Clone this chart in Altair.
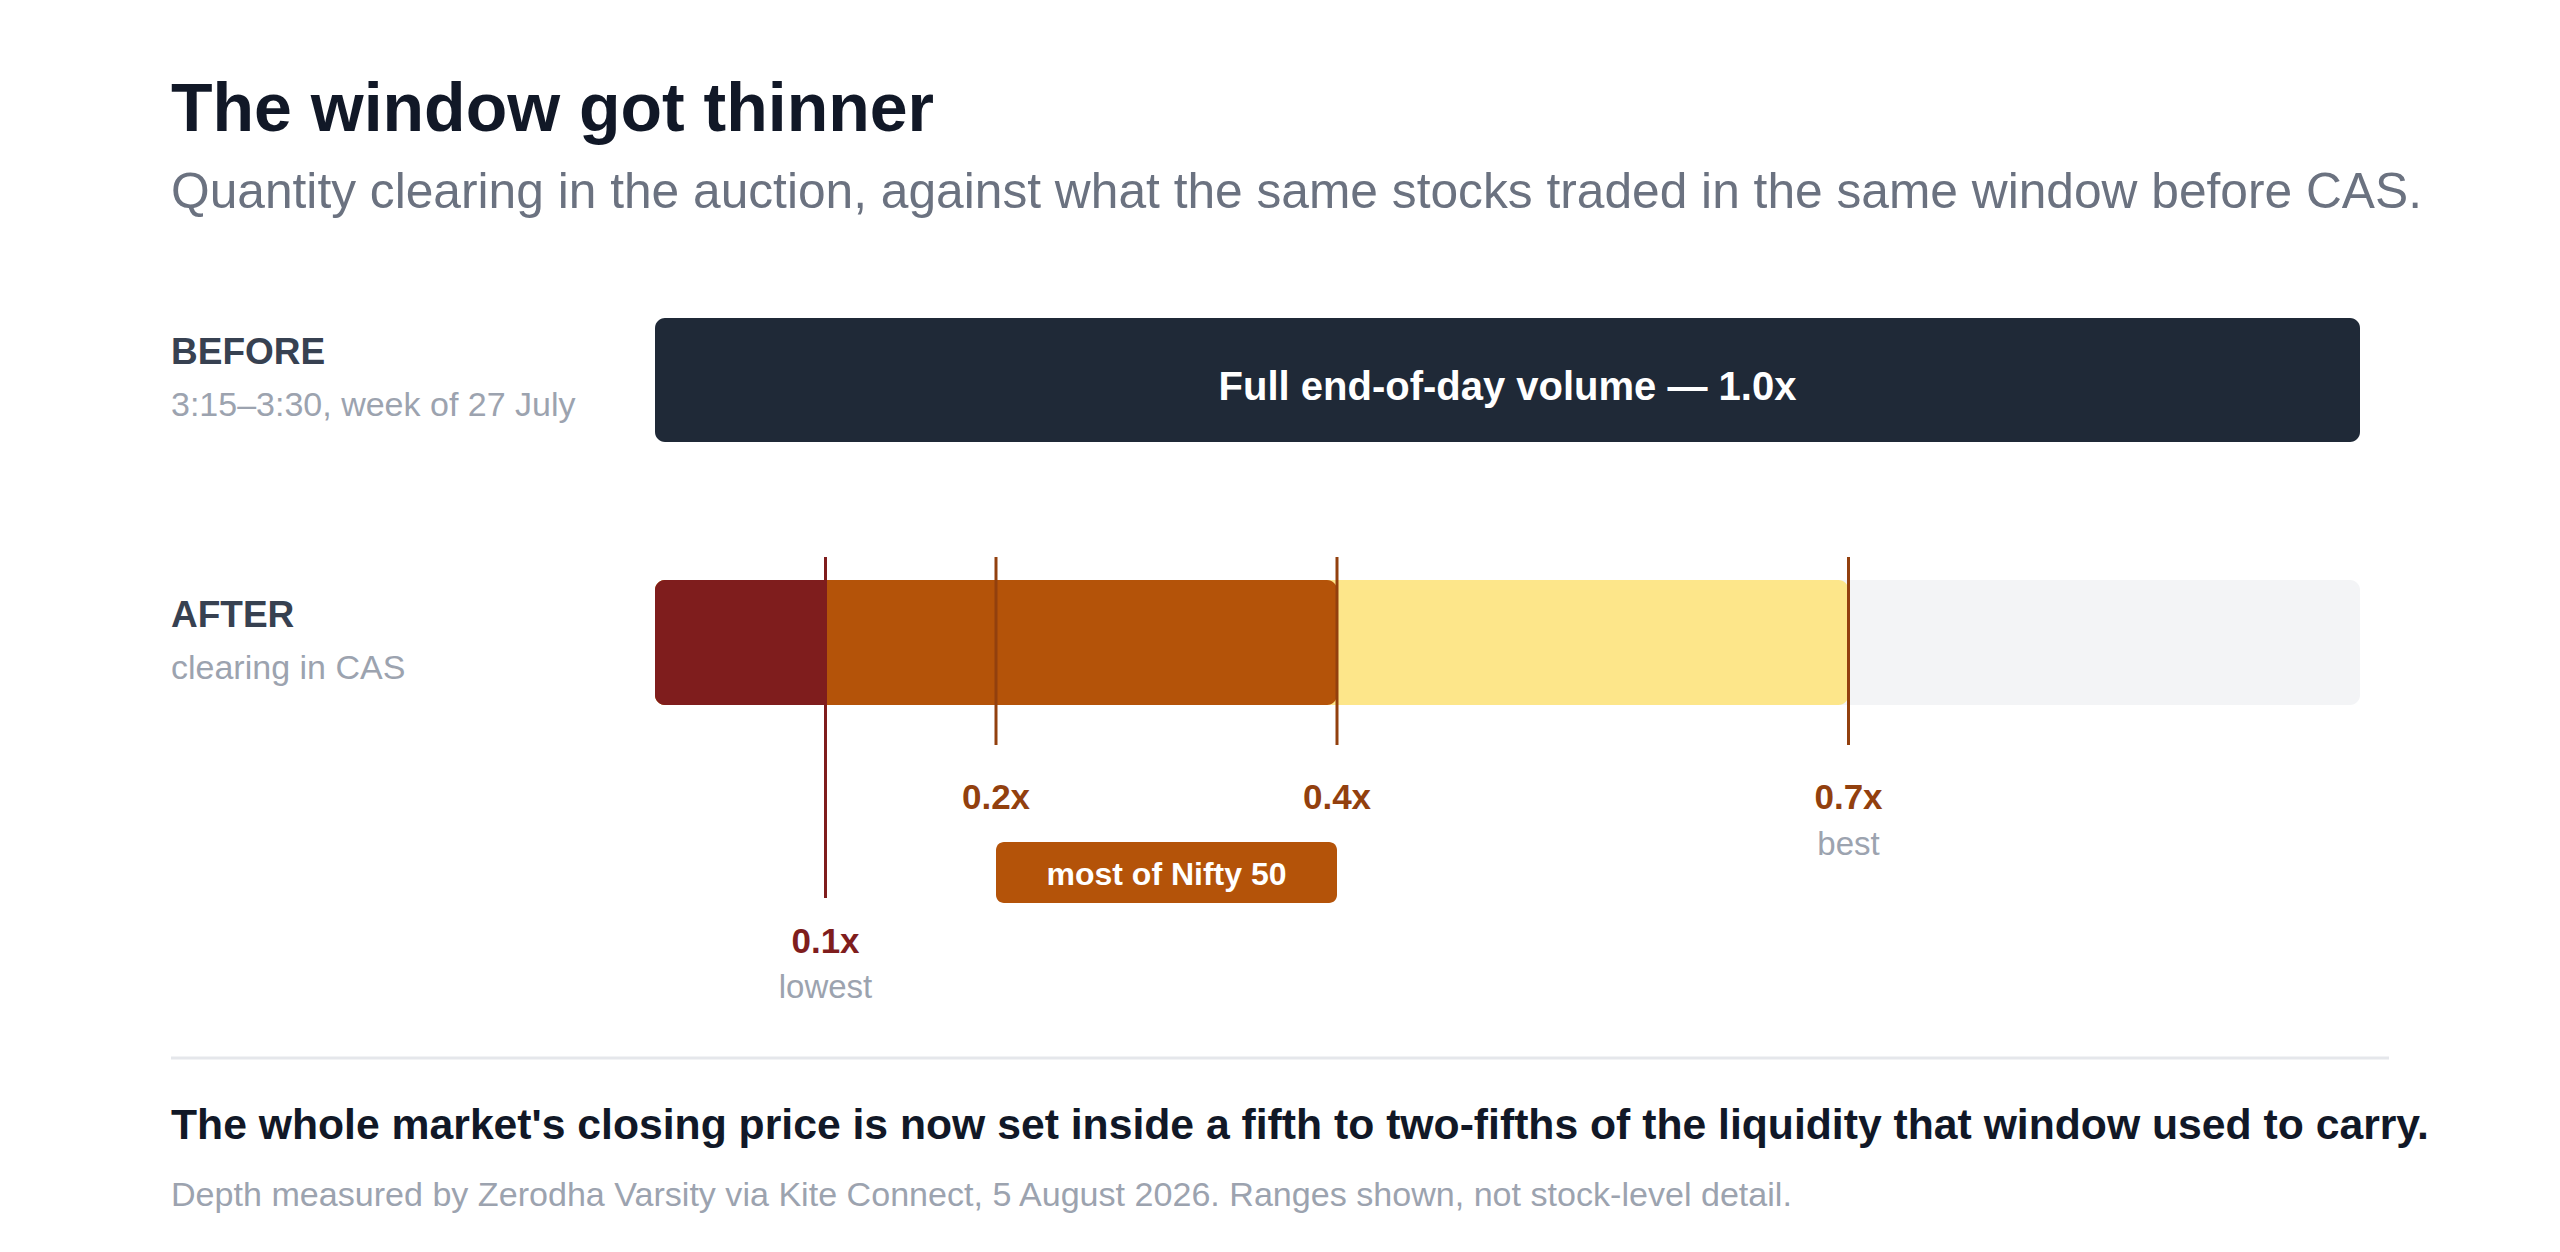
import altair as alt
import pandas as pd

# ---------------- data ----------------
TITLE = "The window got thinner"
SUBTITLE = ("Quantity clearing in the auction, against what the same stocks traded "
            "in the same window before CAS.")
ROW_NAMES = ["BEFORE", "AFTER"]
ROW_NOTES = ["3:15\u20133:30, week of 27 July", "clearing in CAS"]
BEFORE_VALUE = [1.0]
BEFORE_TEXT = ["Full end-of-day volume \u2014 1.0x"]

# AFTER bands, each drawn from 0 up to its end value
BAND_NAMES = ["rest of old volume", "up to best", "most stocks"]
BAND_ENDS = [1.0, 0.7, 0.4]
LOWEST_END = [0.1]

MARKER_VALUES = [0.1, 0.2, 0.4, 0.7]
MARKER_LABELS = ["0.1x", "0.2x", "0.4x", "0.7x"]
MARKER_NOTES = ["lowest", "", "", "best"]

NIFTY_RANGE = [0.2, 0.4]
NIFTY_LABEL = ["most of Nifty 50"]

TAKEAWAY = ("The whole market's closing price is now set inside a fifth to two-fifths "
            "of the liquidity that window used to carry.")
SOURCE = ("Depth measured by Zerodha Varsity via Kite Connect, 5 August 2026. "
          "Ranges shown, not stock-level detail.")

# ---------------- style ----------------
FONT = "Liberation Sans"
C_TITLE = "#111827"
C_SUB = "#6b7280"
C_ROW = "#374151"
C_NOTE = "#9ca3af"
C_DARK = "#1f2937"
C_RED = "#7f1d1d"
C_ORANGE = "#b45309"
C_BROWN = "#92400e"
C_YELLOW = "#fde68a"
C_GREY = "#f3f4f6"
C_DIV = "#e5e7eb"

xs = alt.Scale(domain=[0, 1], range=[484, 2189])
X = lambda f: alt.X(f, type="quantitative", scale=xs, axis=None)


def text_layer(s, x, y, size, color, weight="normal", align="left", baseline="alphabetic"):
    return alt.Chart(pd.DataFrame({"t": [s]})).mark_text(
        font=FONT, fontSize=size, color=color, fontWeight=weight,
        align=align, baseline=baseline
    ).encode(text="t:N", x=alt.value(x), y=alt.value(y))


layers = []

# headings
layers.append(text_layer(TITLE, 0, 123, 68, C_TITLE, "bold"))
layers.append(text_layer(SUBTITLE, 0, 200, 49.7, C_SUB))

# row labels
layers.append(text_layer(ROW_NAMES[0], 0, 356, 37, C_ROW, "bold"))
layers.append(text_layer(ROW_NOTES[0], 0, 408, 34, C_NOTE))
layers.append(text_layer(ROW_NAMES[1], 0, 619, 37, C_ROW, "bold"))
layers.append(text_layer(ROW_NOTES[1], 0, 671, 34, C_NOTE))

# BEFORE bar
before_df = pd.DataFrame({"start": [0.0], "end": BEFORE_VALUE, "label": BEFORE_TEXT})
layers.append(
    alt.Chart(before_df).mark_bar(color=C_DARK, cornerRadius=10).encode(
        x=X("start"), x2="end", y=alt.value(310), y2=alt.value(434))
)
layers.append(
    alt.Chart(before_df).transform_calculate(mid="(datum.start + datum.end) / 2")
    .mark_text(font=FONT, fontSize=40, fontWeight="bold", color="white",
               align="center", baseline="middle")
    .encode(x=X("mid"), y=alt.value(380), text="label:N")
)

# AFTER bands
bands_df = pd.DataFrame({"name": BAND_NAMES, "start": [0.0] * len(BAND_ENDS), "end": BAND_ENDS})
layers.append(
    alt.Chart(bands_df).mark_bar(cornerRadius=10).encode(
        x=X("start"), x2="end", y=alt.value(572), y2=alt.value(697),
        color=alt.Color("name:N", scale=alt.Scale(domain=BAND_NAMES,
                                                  range=[C_GREY, C_YELLOW, C_ORANGE]),
                        legend=None),
        order=alt.Order("end:Q", sort="descending"))
)
low_df = pd.DataFrame({"start": [0.0], "end": LOWEST_END})
layers.append(
    alt.Chart(low_df).mark_bar(color=C_RED, cornerRadiusTopLeft=10,
                               cornerRadiusBottomLeft=10).encode(
        x=X("start"), x2="end", y=alt.value(572), y2=alt.value(697))
)

# markers
mk = pd.DataFrame({"v": MARKER_VALUES, "label": MARKER_LABELS, "note": MARKER_NOTES})
low_mk = alt.Chart(mk).transform_filter("datum.v < 0.15")
hi_mk = alt.Chart(mk).transform_filter("datum.v >= 0.15")

layers.append(low_mk.mark_rule(color=C_RED, strokeWidth=3).encode(
    x=X("v"), y=alt.value(549), y2=alt.value(890)))
layers.append(hi_mk.mark_rule(color=C_BROWN, strokeWidth=3).encode(
    x=X("v"), y=alt.value(549), y2=alt.value(737)))

layers.append(hi_mk.mark_text(font=FONT, fontSize=35, fontWeight="bold", color=C_BROWN,
                              align="center").encode(x=X("v"), y=alt.value(790), text="label:N"))
layers.append(hi_mk.mark_text(font=FONT, fontSize=33, color=C_NOTE,
                              align="center").encode(x=X("v"), y=alt.value(837), text="note:N"))
layers.append(low_mk.mark_text(font=FONT, fontSize=35, fontWeight="bold", color=C_RED,
                               align="center").encode(x=X("v"), y=alt.value(934), text="label:N"))
layers.append(low_mk.mark_text(font=FONT, fontSize=33, color=C_NOTE,
                               align="center").encode(x=X("v"), y=alt.value(980), text="note:N"))

# Nifty 50 range tag
nf = pd.DataFrame({"lo": [NIFTY_RANGE[0]], "hi": [NIFTY_RANGE[1]], "label": NIFTY_LABEL})
layers.append(alt.Chart(nf).mark_bar(color=C_ORANGE, cornerRadius=8).encode(
    x=X("lo"), x2="hi", y=alt.value(834), y2=alt.value(895)))
layers.append(
    alt.Chart(nf).transform_calculate(mid="(datum.lo + datum.hi) / 2")
    .mark_text(font=FONT, fontSize=32, fontWeight="bold", color="white",
               align="center", baseline="middle")
    .encode(x=X("mid"), y=alt.value(867), text="label:N")
)

# divider
layers.append(alt.Chart(pd.DataFrame({"a": [0]})).mark_rule(color=C_DIV, strokeWidth=3).encode(
    x=alt.value(0), x2=alt.value(2218), y=alt.value(1050)))

# footer
layers.append(text_layer(TAKEAWAY, 0, 1131, 42.7, C_TITLE, "bold"))
layers.append(text_layer(SOURCE, 0, 1198, 34.1, C_NOTE))

chart = alt.layer(*layers).properties(
    width=2381, height=1220,
    padding={"left": 163, "top": 0, "right": 0, "bottom": 0},
    autosize=alt.AutoSizeParams(type="none"),
    background="white",
).configure_view(stroke=None)

chart.save("out.html", embed_options={"renderer": "svg", "actions": False})
